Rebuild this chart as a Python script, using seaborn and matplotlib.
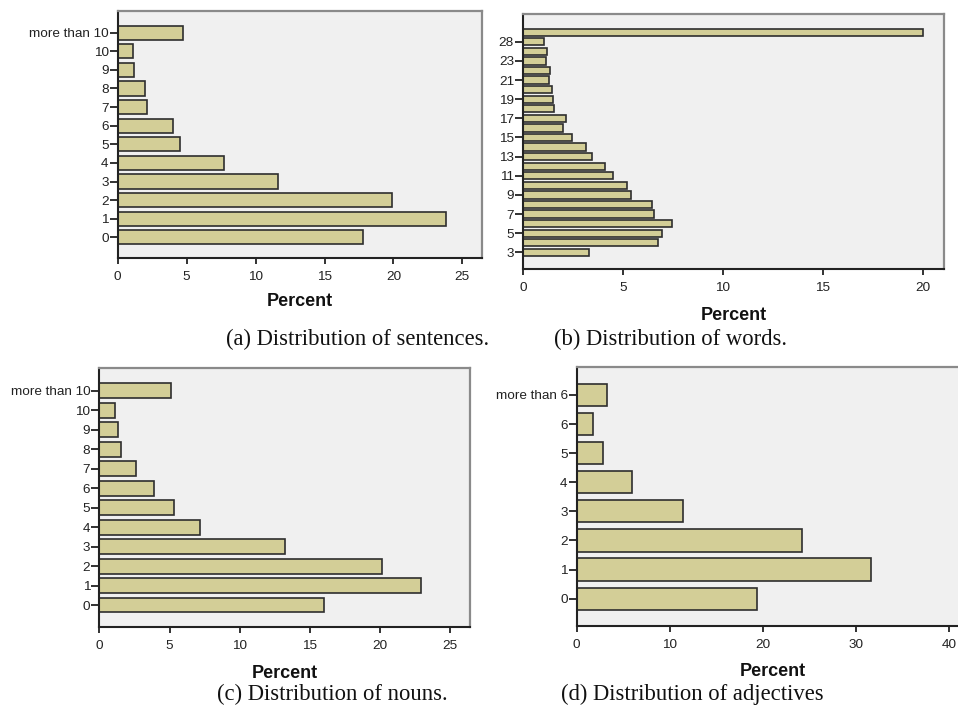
import pandas as pd
import seaborn as sns
import matplotlib.pyplot as plt

# (a) number of sentences
sent_cats = ["0", "1", "2", "3", "4", "5", "6", "7", "8", "9", "10", "more than 10"]
sent_pct = [17.8, 23.8, 19.9, 11.6, 7.7, 4.5, 4.0, 2.15, 2.0, 1.15, 1.1, 4.7]

# (b) number of words (only every other label is printed)
word_cats = ["3", "4", "5", "6", "7", "8", "9", "10", "11", "12", "13", "14", "15",
             "16", "17", "18", "19", "20", "21", "22", "23", "24", "28", "more than 28"]
word_pct = [3.3, 6.74, 6.94, 7.46, 6.54, 6.44, 5.4, 5.2, 4.49, 4.09, 3.44, 3.14, 2.47,
            2.02, 2.13, 1.55, 1.5, 1.43, 1.3, 1.37, 1.13, 1.18, 1.05, 20.0]
word_shown = ["3", "5", "7", "9", "11", "13", "15", "17", "19", "21", "23", "28"]

# (c) number of nouns
noun_cats = ["0", "1", "2", "3", "4", "5", "6", "7", "8", "9", "10", "more than 10"]
noun_pct = [16.0, 22.9, 20.1, 13.2, 7.2, 5.3, 3.9, 2.64, 1.52, 1.35, 1.12, 5.1]

# (d) number of adjectives
adj_cats = ["0", "1", "2", "3", "4", "5", "6", "more than 6"]
adj_pct = [19.3, 31.6, 24.2, 11.4, 5.9, 2.8, 1.75, 3.3]

captions = ["(a) Distribution of sentences.", "(b) Distribution of words.",
            "(c) Distribution of nouns.", "(d) Distribution of adjectives"]

W, H = 958, 710
BAR = "#d3ce97"
EDGE = "#2e2e2e"

sns.set_theme(style="ticks")
plt.rcParams["font.family"] = ["Liberation Sans", "DejaVu Sans"]

fig = plt.figure(figsize=(W / 100, H / 100), dpi=100)


def panel(rect, cats, pct, xmax, xticks, pad, shown=None):
    l, t, r, b = rect
    ax = fig.add_axes([l / W, 1 - b / H, (r - l) / W, (b - t) / H])
    ax.set_facecolor("#f0f0f0")
    order = cats[::-1]
    df = pd.DataFrame({"cat": cats, "pct": pct})
    sns.barplot(data=df, x="pct", y="cat", order=order, color=BAR, saturation=1,
                edgecolor=EDGE, linewidth=1.2, width=0.76, ax=ax)
    n = len(cats)
    ax.set_ylim(n - 1 + pad[1], -pad[0])
    ax.set_xlim(0, xmax)
    ax.set_xticks(xticks)
    if shown is not None:
        ax.set_yticks([order.index(c) for c in shown], shown)
    ax.set_xlabel("")
    ax.set_ylabel("")
    for side in ["left", "bottom"]:
        ax.spines[side].set_color("#222222")
        ax.spines[side].set_linewidth(1.5)
    for side in ["top", "right"]:
        ax.spines[side].set_visible(True)
        ax.spines[side].set_color("#8a8a8a")
        ax.spines[side].set_linewidth(1.6)
    ax.tick_params(axis="x", length=4.5, width=1.3, pad=5, labelsize=9.7,
                   color="#222222", labelcolor="#222222")
    ax.tick_params(axis="y", length=5.5, width=1.3, pad=1, labelsize=9.7,
                   color="#222222", labelcolor="#222222")
    return ax


panel((117.7, 11, 481.7, 257.7), sent_cats, sent_pct, 26.4, [0, 5, 10, 15, 20, 25], (1.16, 1.09))
panel((523, 14.3, 944, 269.3), word_cats, word_pct, 21.07, [0, 5, 10, 15, 20], (1.88, 1.78), word_shown)
panel((99.3, 368.3, 470, 626.7), noun_cats, noun_pct, 26.4, [0, 5, 10, 15, 20, 25], (1.16, 1.11))
panel((576.7, 367.3, 975, 626), adj_cats, adj_pct, 42.75, [0, 10, 20, 30, 40], (0.95, 0.94))

# "Percent" axis titles
for x, y in [(300, 302), (734, 315), (285, 673), (773, 672)]:
    fig.text(x / W, 1 - y / H, "Percent", ha="center", va="center",
             fontsize=13, fontweight="bold", color="#111111")

# sub-figure captions
for x, y, txt in [(226, 345, captions[0]), (554, 345, captions[1]),
                  (217, 700, captions[2]), (561, 700, captions[3])]:
    fig.text(x / W, 1 - y / H, txt, ha="left", va="baseline",
             fontsize=16.3, family=["Liberation Serif", "DejaVu Serif"], color="#111111")

fig.savefig("out.png", dpi=100)
